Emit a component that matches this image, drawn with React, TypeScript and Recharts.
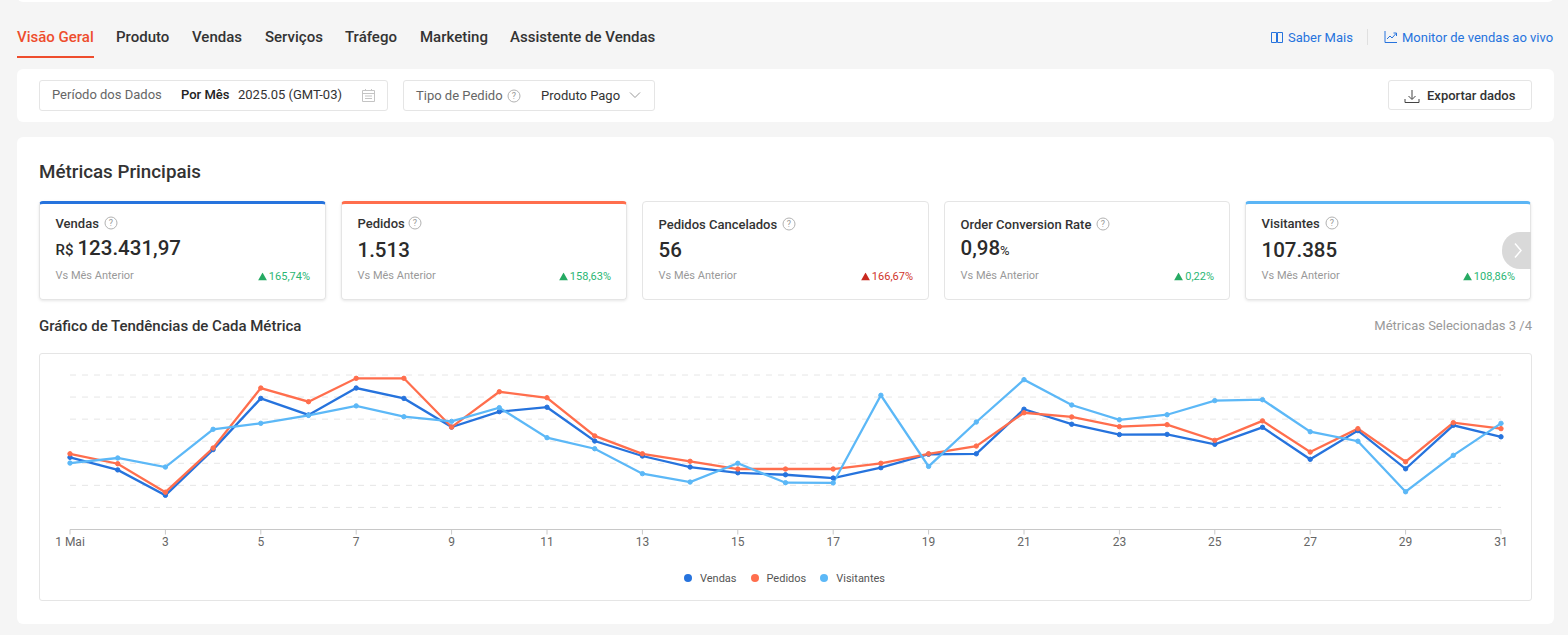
import React from 'react';
import { LineChart, Line, XAxis, YAxis, CartesianGrid, Legend } from 'recharts';

const days = ['1 Mai', '2', '3', '4', '5', '6', '7', '8', '9', '10', '11', '12', '13', '14', '15', '16', '17', '18', '19', '20', '21', '22', '23', '24', '25', '26', '27', '28', '29', '30', '31'];

// no y axis in the picture, so values are read on a 0-70 scale of the plot height
const vendas = [32.7, 27.0, 15.5, 36.2, 59.4, 51.9, 64.1, 59.4, 46.4, 53.4, 55.4, 40.1, 33.3, 28.3, 25.7, 24.8, 23.3, 28.0, 34.1, 34.3, 54.5, 47.7, 43.0, 43.1, 38.6, 46.3, 31.8, 44.8, 27.5, 47.2, 42.0];
const pedidos = [34.3, 29.8, 16.9, 36.9, 64.1, 57.9, 68.5, 68.5, 46.4, 62.4, 59.7, 42.4, 34.3, 30.9, 27.4, 27.4, 27.4, 30.0, 34.3, 37.8, 52.9, 51.0, 46.6, 47.5, 40.4, 49.2, 35.1, 45.7, 30.7, 48.4, 45.7];
const visitantes = [30.1, 32.4, 28.3, 45.4, 48.1, 51.7, 56.0, 51.1, 49.0, 55.2, 41.6, 36.6, 25.3, 21.5, 30.0, 21.2, 21.1, 60.8, 28.6, 48.7, 67.9, 56.4, 49.7, 52.0, 58.4, 58.8, 44.3, 40.0, 17.1, 33.6, 48.1];
const yTicks = [0, 10, 20, 30, 40, 50, 60, 70];
const seriesOrder = ['Vendas', 'Pedidos', 'Visitantes'];

const tabs = [
  { label: 'Visão Geral', x: 17 },
  { label: 'Produto', x: 116 },
  { label: 'Vendas', x: 192 },
  { label: 'Serviços', x: 265 },
  { label: 'Tráfego', x: 345 },
  { label: 'Marketing', x: 420 },
  { label: 'Assistente de Vendas', x: 510 },
];

const cards = [
  { x: 39, w: 287, name: 'Vendas', help: 111, nameY: 223, prefix: 'R$', value: '123.431,97', unit: '', valueY: 247, delta: '165,74%', bad: false, top: '#2673dd' },
  { x: 341, w: 286, name: 'Pedidos', help: 415, nameY: 223, prefix: '', value: '1.513', unit: '', valueY: 249, delta: '158,63%', bad: false, top: '#ff6e4d' },
  { x: 642, w: 287, name: 'Pedidos Cancelados', help: 789, nameY: 224, prefix: '', value: '56', unit: '', valueY: 249, delta: '166,67%', bad: true, top: '' },
  { x: 944, w: 286, name: 'Order Conversion Rate', help: 1103, nameY: 224, prefix: '', value: '0,98', unit: '%', valueY: 247, delta: '0,22%', bad: false, top: '' },
  { x: 1245, w: 286, name: 'Visitantes', help: 1332, nameY: 223, prefix: '', value: '107.385', unit: '', valueY: 249, delta: '108,86%', bad: false, top: '#5bb5f5' },
];

const chartData = days.map((day, i) => ({ day, vendas: vendas[i], pedidos: pedidos[i], visitantes: visitantes[i] }));

function Txt({ x, y, size = 13, weight = 400, color = '#333', right, children }: any) {
  const pos = right !== undefined ? { right: 1568 - right } : { left: x };
  return (
    <div style={{ position: 'absolute', top: y + 1, ...pos, transform: 'translateY(-50%)', fontSize: size, fontWeight: weight, color, whiteSpace: 'nowrap', lineHeight: 1.2 }}>
      {children}
    </div>
  );
}

function Box({ x, y, w, h, style }: any) {
  return <div style={{ position: 'absolute', left: x, top: y, width: w, height: h, boxSizing: 'border-box', ...style }} />;
}

function Help({ x, y }: { x: number; y: number }) {
  return (
    <svg width="14" height="14" style={{ position: 'absolute', left: x - 7, top: y - 7 }}>
      <circle cx="7" cy="7" r="6" fill="none" stroke="#b2b2b2" />
      <text x="7" y="10" textAnchor="middle" fontSize="9" fill="#999">?</text>
    </svg>
  );
}

function Icon({ x, y, w = 16, h = 16, children }: any) {
  return (
    <svg width={w} height={h} viewBox={`0 0 ${w} ${h}`} fill="none" style={{ position: 'absolute', left: x, top: y }}>
      {children}
    </svg>
  );
}

function ChartLegend({ payload }: any) {
  return (
    <div style={{ display: 'flex', justifyContent: 'center', height: 16, alignItems: 'center', paddingRight: 2 }}>
      {(payload || []).map((item: any) => (
        <div key={item.value} style={{ display: 'flex', alignItems: 'center', margin: '0 7px', fontSize: 11, color: '#555' }}>
          <span style={{ width: 8, height: 8, borderRadius: 4, background: item.color, marginRight: 8 }} />
          {item.value}
        </div>
      ))}
    </div>
  );
}

export default function App() {
  return (
    <div style={{ position: 'absolute', left: 0, top: 0, width: 1568, height: 635, overflow: 'hidden', background: '#f5f5f5', fontFamily: 'Roboto, sans-serif' }}>
      <Box x={17} y={-10} w={1537} h={12} style={{ background: '#fff', borderRadius: 6 }} />

      {tabs.map((t, i) => (
        <Txt key={t.label} x={t.x} y={36} size={15} weight={500} color={i === 0 ? '#ee4d2d' : '#333'}>{t.label}</Txt>
      ))}
      <Box x={17} y={56} w={77} h={2} style={{ background: '#ee4d2d' }} />

      <Icon x={1270} y={31} w={14} h={13}>
        <path d="M1.5 1.5h5v10h-5zM7.5 1.5h5v10h-5z" stroke="#2673dd" />
      </Icon>
      <Txt x={1288} y={37} color="#2673dd">Saber Mais</Txt>
      <Box x={1367} y={29} w={1} h={16} style={{ background: '#e0e0e0' }} />
      <Icon x={1384} y={30} w={14} h={14}>
        <path d="M1 1v11.5h12M3 9l3-3 2 2 4-4.5M9.5 3H12.5V6" stroke="#2673dd" />
      </Icon>
      <Txt x={1402} y={37} color="#2673dd">Monitor de vendas ao vivo</Txt>

      <Box x={17} y={69} w={1537} h={53} style={{ background: '#fff', borderRadius: 6 }} />
      <Box x={39} y={80} w={349} h={31} style={{ border: '1px solid #e5e5e5', borderRadius: 3 }} />
      <Txt x={52} y={94} color="#666">Período dos Dados</Txt>
      <Txt x={181} y={94} weight={500} color="#222">Por Mês</Txt>
      <Txt x={238} y={94}>2025.05 (GMT-03)</Txt>
      <Icon x={361} y={88} w={15} h={15}>
        <path d="M1.5 2.5h12v11h-12zM1.5 5.5h12M4.5 1v2M10.5 1v2M4 8h7M4 10.5h7" stroke="#c4c4c4" />
      </Icon>
      <Box x={403} y={80} w={252} h={31} style={{ border: '1px solid #e5e5e5', borderRadius: 3 }} />
      <Txt x={416} y={95} color="#666">Tipo de Pedido</Txt>
      <Help x={514} y={96} />
      <Txt x={541} y={95}>Produto Pago</Txt>
      <Icon x={629} y={91} w={12} h={8}>
        <path d="M1 1.5l5 5 5-5" stroke="#999" />
      </Icon>
      <Box x={1388} y={80} w={144} h={30} style={{ border: '1px solid #e5e5e5', borderRadius: 3 }} />
      <Icon x={1404} y={89} w={16} h={15}>
        <path d="M8 1v9M4.5 7l3.5 3.5L11.500 7M1 10v3.500h14V10" stroke="#444" />
      </Icon>
      <Txt x={1427} y={95} weight={500}>Exportar dados</Txt>

      <Box x={17} y={137} w={1537} h={487} style={{ background: '#fff', borderRadius: 6 }} />
      <Txt x={39} y={171} size={18.800} weight={500}>Métricas Principais</Txt>

      {cards.map((c) => (
        <React.Fragment key={c.name}>
          <Box x={c.x} y={201} w={c.w} h={99} style={{ border: '1px solid #e5e5e5', borderTop: c.top ? `3px solid ${c.top}` : '1px solid #e5e5e5', borderRadius: 4, boxShadow: c.top ? '0 1px 3px rgba(0,0,0,0.1)' : 'none' }} />
          <Txt x={c.x + 16.500} y={c.nameY} weight={500}>{c.name}</Txt>
          <Help x={c.help} y={c.nameY} />
          <Txt x={c.x + 16.500} y={c.valueY} size={20.500} weight={500} color="#2b2b2b">
            {c.prefix && <span style={{ fontSize: 15, marginRight: 4 }}>{c.prefix}</span>}
            {c.value}
            {c.unit && <span style={{ fontSize: 13, fontWeight: 400 }}>{c.unit}</span>}
          </Txt>
          <Txt x={c.x + 16.500} y={274.500} size={11} color="#999">Vs Mês Anterior</Txt>
          <Txt right={c.x + c.w - 16} y={276} size={11} color={c.bad ? '#d0342c' : '#2bb673'}>
            <svg width="9" height="8" style={{ marginRight: 2 }}>
              <path d="M4.500 0L9 8H0z" fill={c.bad ? '#c8281e' : '#26aa63'} />
            </svg>
            {c.delta}
          </Txt>
        </React.Fragment>
      ))}
      <div style={{ position: 'absolute', left: 1502, top: 232, width: 29, height: 37, background: '#d9d9d9', borderRadius: '18px 0 0 18px' }} />
      <Icon x={1513} y={242} w={10} h={17}>
        <path d="M2 1.500l6 7-6 7" stroke="#fff" strokeWidth="1.500" />
      </Icon>

      <Txt x={39} y={325} size={15} weight={500}>Gráfico de Tendências de Cada Métrica</Txt>
      <Txt right={1532} y={325} color="#999">Métricas Selecionadas 3 /4</Txt>

      <Box x={39} y={353} w={1493} h={248} style={{ border: '1px solid #e5e5e5', borderRadius: 3 }} />
      <div style={{ position: 'absolute', left: 40, top: 354 }}>
        <LineChart width={1491} height={246} data={chartData} margin={{ top: 21, right: 30, bottom: 24.5, left: 30 }}>
          <CartesianGrid vertical={false} stroke="#e6e6e6" strokeDasharray="6 6" />
          <XAxis
            dataKey="day"
            interval={1}
            tick={{ fontSize: 12, fill: '#666' }}
            tickLine={{ stroke: '#c8c8c8' }}
            axisLine={{ stroke: '#c8c8c8' }}
            tickSize={5}
            tickMargin={3}
            height={30}
          />
          <YAxis hide domain={[0, 70]} ticks={yTicks} interval={0} />
          <Legend
            content={<ChartLegend />}
            wrapperStyle={{ bottom: 14 }}
            itemSorter={(item: any) => seriesOrder.indexOf(item.value)}
          />
          <Line dataKey="vendas" name="Vendas" stroke="#2673dd" strokeWidth={2.3} dot={{ r: 2.2, fill: '#2673dd', strokeWidth: 1 }} isAnimationActive={false} />
          <Line dataKey="pedidos" name="Pedidos" stroke="#ff6e4d" strokeWidth={2.3} dot={{ r: 2.2, fill: '#ff6e4d', strokeWidth: 1 }} isAnimationActive={false} />
          <Line dataKey="visitantes" name="Visitantes" stroke="#5cb8f7" strokeWidth={2.3} dot={{ r: 2.2, fill: '#5cb8f7', strokeWidth: 1 }} isAnimationActive={false} />
        </LineChart>
      </div>
    </div>
  );
}
